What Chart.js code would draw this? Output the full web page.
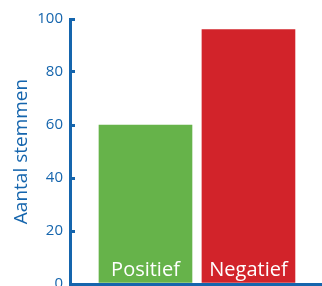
<!DOCTYPE html>
<html>
<head>
<meta charset="utf-8">
<script src="https://cdn.jsdelivr.net/npm/chart.js@4/dist/chart.umd.min.js"></script>
<style>
  html, body { margin: 0; padding: 0; background: #ffffff; }
  #wrap { width: 322px; height: 286px; }
</style>
</head>
<body>
<div id="wrap"><canvas id="c" width="322" height="286"></canvas></div>
<script>
const categories = ['Positief', 'Negatief'];
const values = [60, 96];
const barColors = ['#66b34a', '#d2232a'];
const yTicks = [0, 20, 40, 60, 80, 100];
const yTitle = 'Aantal stemmen';

const BLUE = '#1565ad';
const FONT = "'Open Sans', sans-serif";

const points = categories.map((c, i) => ({ x: i, y: values[i] }));

new Chart(document.getElementById('c'), {
  type: 'bar',
  data: {
    datasets: [{
      data: points,
      backgroundColor: barColors,
      borderWidth: 0,
      barThickness: 93
    }]
  },
  options: {
    responsive: false,
    animation: false,
    events: [],
    layout: { padding: { top: 19, right: 0, bottom: 0, left: 0 } },
    plugins: { legend: { display: false }, tooltip: { enabled: false } },
    scales: {
      x: {
        type: 'linear',
        position: 'bottom',
        offset: false,
        min: -0.733,
        max: 1.714,
        grid: { display: false, offset: false },
        border: { display: true, color: BLUE, width: 3 },
        ticks: {
          stepSize: 1,
          includeBounds: false,
          z: 1,
          mirror: true,
          padding: 2,
          color: '#ffffff',
          font: { family: FONT, size: 20 },
          maxRotation: 0,
          autoSkip: false,
          callback: (v) => (Number.isInteger(v) && categories[v] !== undefined) ? categories[v] : ''
        },
        afterFit: (s) => { s.height = 2; s.paddingLeft = 0; s.paddingRight = 0; }
      },
      y: {
        min: yTicks[0],
        max: yTicks[yTicks.length - 1],
        afterBuildTicks: (s) => { s.ticks = yTicks.map(v => ({ value: v })); },
        grid: { display: true, drawOnChartArea: false, drawTicks: true, tickLength: -5, color: BLUE, lineWidth: 3 },
        border: { display: true, color: BLUE, width: 3 },
        ticks: {
          padding: 12,
          color: BLUE,
          font: { family: FONT, size: 15 }
        },
        title: {
          display: true,
          text: yTitle,
          color: BLUE,
          font: { family: FONT, size: 19 },
          padding: { top: 10, bottom: 0 }
        },
        afterFit: (s) => { s.width = 70; s.paddingTop = 0; s.paddingBottom = 0; }
      }
    }
  }
});
</script>
</body>
</html>
